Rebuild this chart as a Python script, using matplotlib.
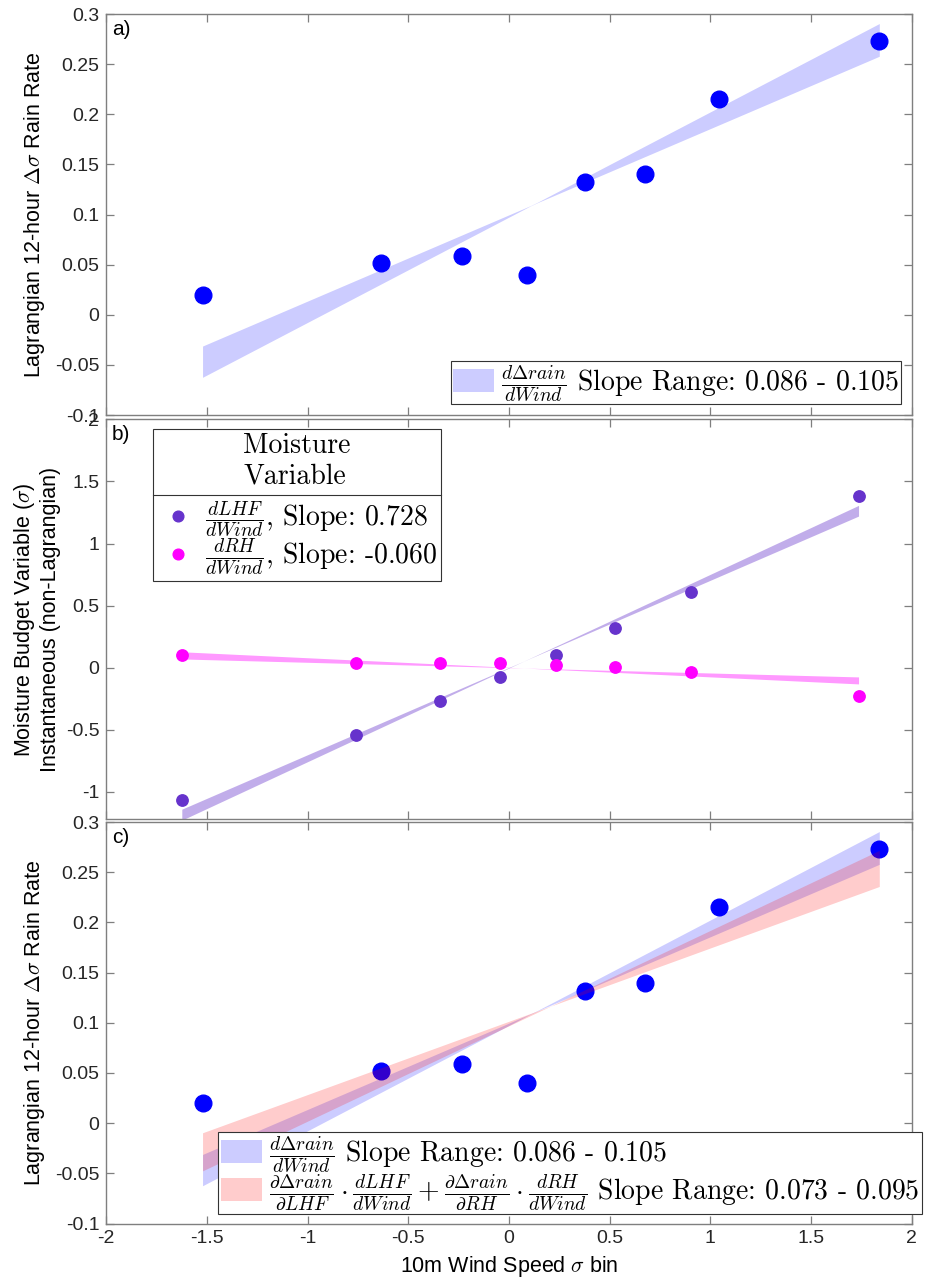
import matplotlib
matplotlib.use("Agg")
import matplotlib.pyplot as plt
import numpy as np
from matplotlib.lines import Line2D
from matplotlib.patches import Patch
from matplotlib.ticker import FuncFormatter, MultipleLocator

plt.rcParams["font.family"] = ["Liberation Sans", "DejaVu Sans"]
plt.rcParams["mathtext.fontset"] = "cm"

# 10 m wind speed sigma bins and Lagrangian 12-hour rain rate change
wind_bin = [-1.522, -0.638, -0.232, 0.087, 0.375, 0.675, 1.045, 1.839]
rain_rate = [0.020, 0.052, 0.059, 0.040, 0.132, 0.140, 0.215, 0.273]

# instantaneous (non-Lagrangian) moisture budget variables
wind_bin_inst = [-1.625, -0.759, -0.343, -0.045, 0.231, 0.527, 0.904, 1.736]
lhf = [-1.068, -0.543, -0.270, -0.075, 0.102, 0.316, 0.610, 1.385]
rh = [0.102, 0.040, 0.035, 0.038, 0.022, 0.008, -0.035, -0.230]

# slope ranges of the fits
rain_slope = (0.086, 0.105)
budget_slope = (0.073, 0.095)
rain_fit_centre = (0.12, 0.11)
lhf_slope = 0.728
lhf_slope_range = (0.702, 0.754)
rh_slope = -0.060
rh_slope_range = (-0.077, -0.043)

BLUE = "#0000ff"
PURPLE = "#6633cc"
MAGENTA = "#ff00ff"
EDGE = "#7f7f7f"
LEG_FONT = {"family": "cmr10", "size": 20}
LABEL_SIZE = 15.5


def slope_band(x, x0, y0, slopes):
    xs = np.linspace(min(x), max(x), 100)
    lines = [y0 + s * (xs - x0) for s in slopes]
    return xs, np.minimum(*lines), np.maximum(*lines)


def tick_fmt(v, pos):
    return f"{round(v, 6) + 0.0:g}"


def style(ax, ylim, ystep, xlabels=False):
    ax.set_xlim(-2, 2)
    ax.set_ylim(*ylim)
    ax.xaxis.set_major_locator(MultipleLocator(0.5))
    ax.yaxis.set_major_locator(MultipleLocator(ystep))
    ax.xaxis.set_major_formatter(FuncFormatter(tick_fmt))
    ax.yaxis.set_major_formatter(FuncFormatter(tick_fmt))
    for s in ax.spines.values():
        s.set_color(EDGE)
        s.set_linewidth(1.0)
    ax.tick_params(direction="in", top=True, right=True, length=6, width=0.9,
                   color=EDGE, labelsize=14, labelcolor="#262626", pad=5)
    if not xlabels:
        ax.tick_params(labelbottom=False)


def frame(leg):
    leg.get_frame().set_edgecolor("#333333")
    leg.get_frame().set_linewidth(0.8)


fig = plt.figure(figsize=(9.28, 12.8), dpi=100)
left, width = 0.11455, 0.86789
ax_a = fig.add_axes([left, 0.67578, width, 0.31328])
ax_b = fig.add_axes([left, 0.35992, width, 0.3125])
ax_c = fig.add_axes([left, 0.04414, width, 0.31367])

rain_label = r"Lagrangian 12-hour $\Delta\sigma$ Rain Rate"
rain_lab = r"$\frac{d\Delta rain}{dWind}$ Slope Range: %.3f - %.3f" % rain_slope
budget_lab = (r"$\frac{\partial\Delta rain}{\partial LHF}\cdot\frac{dLHF}{dWind}"
              r" + \frac{\partial\Delta rain}{\partial RH}\cdot\frac{dRH}{dWind}$"
              " Slope Range: %.3f - %.3f" % budget_slope)

# a) rain rate with the observed slope band
xs, lo, hi = slope_band(wind_bin, *rain_fit_centre, rain_slope)
ax_a.fill_between(xs, lo, hi, color=BLUE, alpha=0.2, lw=0, zorder=1)
ax_a.plot(wind_bin, rain_rate, "o", color=BLUE, ms=12, zorder=3)
style(ax_a, (-0.1, 0.3), 0.05)
ax_a.set_ylabel(rain_label, fontsize=LABEL_SIZE)
ax_a.yaxis.set_label_coords(-0.074, 0.5)
ax_a.text(0.007, 0.985, "a)", transform=ax_a.transAxes, fontsize=15,
          va="top", ha="left")
leg_a = ax_a.legend([Patch(facecolor=BLUE, alpha=0.2, lw=0)], [rain_lab],
                    loc="lower right", bbox_to_anchor=(0.9867, 0.0274),
                    borderaxespad=0, prop=LEG_FONT, fancybox=False,
                    framealpha=1, handlelength=1.5, handleheight=0.9,
                    handletextpad=0.25, borderpad=0.05)
frame(leg_a)

# b) moisture budget variables against wind
mx = np.mean(wind_bin_inst)
xs, lo, hi = slope_band(wind_bin_inst, mx, np.mean(lhf), lhf_slope_range)
ax_b.fill_between(xs, lo, hi, color=PURPLE, alpha=0.4, lw=0, zorder=1)
xs, lo, hi = slope_band(wind_bin_inst, mx, np.mean(rh), rh_slope_range)
ax_b.fill_between(xs, lo, hi, color=MAGENTA, alpha=0.4, lw=0, zorder=1)
ax_b.plot(wind_bin_inst, lhf, "o", color=PURPLE, ms=8.2, zorder=3)
ax_b.plot(wind_bin_inst, rh, "o", color=MAGENTA, ms=8.2, zorder=3)
style(ax_b, (-1.22, 2), 0.5)
ax_b.set_ylabel("Moisture Budget Variable ($\\sigma$)\nInstantaneous (non-Lagrangian)",
                fontsize=LABEL_SIZE)
ax_b.yaxis.set_label_coords(-0.056, 0.5)
ax_b.text(0.007, 0.985, "b)", transform=ax_b.transAxes, fontsize=15,
          va="top", ha="left")
handles_b = [Line2D([], [], ls="none", marker="o", ms=7.7, color=PURPLE),
             Line2D([], [], ls="none", marker="o", ms=7.7, color=MAGENTA)]
labels_b = [r"$\frac{dLHF}{dWind}$, Slope: %.3f" % lhf_slope,
            r"$\frac{dRH}{dWind}$, Slope: %.3f" % rh_slope]
leg_b = ax_b.legend(handles_b, labels_b, title="Moisture\nVariable",
                    loc="upper left", bbox_to_anchor=(0.0576, 0.9765),
                    borderaxespad=0, prop=LEG_FONT,
                    title_fontproperties=LEG_FONT,
                    fancybox=False, framealpha=1, handlelength=1.5,
                    handletextpad=0.22, borderpad=0.15, labelspacing=-0.1)
# wider gap between the title and the entries than between the entries
leg_b._legend_box.sep = 0.35 * LEG_FONT["size"]
frame(leg_b)

# c) observed band against the budget-derived band
xs, lo, hi = slope_band(wind_bin, *rain_fit_centre, rain_slope)
ax_c.fill_between(xs, lo, hi, color=BLUE, alpha=0.2, lw=0, zorder=3)
xs, lo, hi = slope_band(wind_bin, np.mean(wind_bin), np.mean(rain_rate), budget_slope)
ax_c.fill_between(xs, lo, hi, color="red", alpha=0.2, lw=0, zorder=3)
ax_c.plot(wind_bin, rain_rate, "o", color=BLUE, ms=12, zorder=2)
style(ax_c, (-0.1, 0.3), 0.05, xlabels=True)
ax_c.set_ylabel(rain_label, fontsize=LABEL_SIZE)
ax_c.yaxis.set_label_coords(-0.074, 0.5)
ax_c.set_xlabel(r"10m Wind Speed $\sigma$ bin", fontsize=LABEL_SIZE, labelpad=5)
ax_c.text(0.007, 0.985, "c)", transform=ax_c.transAxes, fontsize=15,
          va="top", ha="left")
leg_c = ax_c.legend([Patch(facecolor=BLUE, alpha=0.2, lw=0),
                     Patch(facecolor="red", alpha=0.2, lw=0)],
                    [rain_lab, budget_lab],
                    loc="lower right", bbox_to_anchor=(1.0128, 0.024),
                    borderaxespad=0, prop=LEG_FONT, fancybox=False,
                    framealpha=1, handlelength=1.5, handleheight=0.9,
                    handletextpad=0.25, borderpad=0.08, labelspacing=-0.08)
frame(leg_c)

# rule under the legend title in panel b
fig.canvas.draw()
renderer = fig.canvas.get_renderer()
fb = leg_b.get_frame().get_window_extent(renderer)
tb = leg_b.get_title().get_window_extent(renderer)
W, H = fig.bbox.width, fig.bbox.height
y_rule = (tb.y0 - 0.18 * LEG_FONT["size"] * fig.dpi / 72) / H
fig.add_artist(Line2D([fb.x0 / W, fb.x1 / W], [y_rule, y_rule],
                      transform=fig.transFigure, color="#333333", lw=0.8,
                      zorder=10))

fig.savefig("out.png", dpi=100)
